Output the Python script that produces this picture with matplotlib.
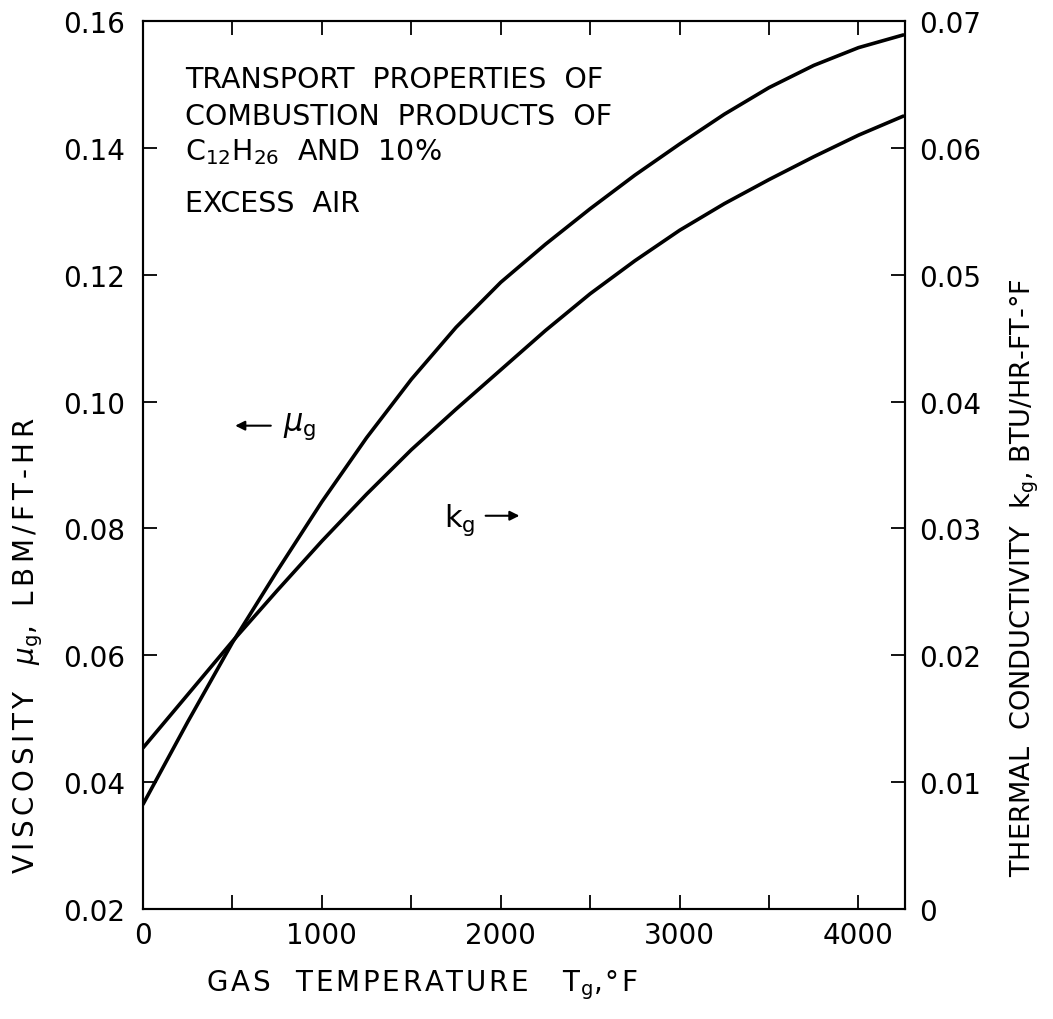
import matplotlib.pyplot as plt
import numpy as np

# gas temperature, deg F
temp = [0, 250, 500, 750, 1000, 1250, 1500, 1750, 2000, 2250, 2500,
        2750, 3000, 3250, 3500, 3750, 4000, 4250]
# viscosity mu_g, lbm/ft-hr (left axis)
mu = [0.0365, 0.0495, 0.0620, 0.0733, 0.0842, 0.0943, 0.1035, 0.1117, 0.1188,
      0.1248, 0.1304, 0.1357, 0.1406, 0.1453, 0.1495, 0.1530, 0.1558, 0.1578]
# thermal conductivity k_g, btu/hr-ft-F (right axis)
k = [0.0127, 0.0169, 0.0211, 0.0251, 0.0290, 0.0327, 0.0362, 0.0394, 0.0425,
     0.0456, 0.0485, 0.0511, 0.0535, 0.0556, 0.0575, 0.0593, 0.0610, 0.0625]

x_major = [0, 1000, 2000, 3000, 4000]
x_minor = [500, 1500, 2500, 3500]
left_ticks = [0.02, 0.04, 0.06, 0.08, 0.10, 0.12, 0.14, 0.16]
left_labels = ['0.02', '0.04', '0.06', '0.08', '0.10', '0.12', '0.14', '0.16']
right_ticks = [0, 0.01, 0.02, 0.03, 0.04, 0.05, 0.06, 0.07]
right_labels = ['0', '0.01', '0.02', '0.03', '0.04', '0.05', '0.06', '0.07']


def spread(s, gap):
    # widen lettering outside of $...$ parts, like the hand lettering
    parts = s.split('$')
    out = []
    for i, p in enumerate(parts):
        out.append(gap.join(p) if i % 2 == 0 else '$' + p + '$')
    return ''.join(out)


W, H = 1053, 1020
fig = plt.figure(figsize=(W / 100, H / 100), dpi=100)
ax = fig.add_axes([143 / W, 1 - 910 / H, (905 - 143) / W, (910 - 22) / H])
ax2 = ax.twinx()

ax.plot(temp, mu, color='black', lw=2.6, solid_capstyle='round')
ax2.plot(temp, k, color='black', lw=2.6, solid_capstyle='round')

ax.set_xlim(0, 4260)
ax.set_ylim(0.02, 0.16)
ax2.set_ylim(0, 0.07)

ax.set_xticks(x_major)
ax.set_xticklabels([str(v) for v in x_major])
ax.set_xticks(x_minor, minor=True)
ax.set_yticks(left_ticks)
ax.set_yticklabels(left_labels)
ax2.set_yticks(right_ticks)
ax2.set_yticklabels(right_labels)

for a in (ax, ax2):
    for s in a.spines.values():
        s.set_linewidth(1.5)

ax.tick_params(axis='x', which='both', direction='in', top=True, length=10,
               width=1.3, labelsize=20, pad=9)
ax.tick_params(axis='y', direction='in', length=10, width=1.3, labelsize=20, pad=13)
ax2.tick_params(axis='y', direction='in', length=10, width=1.3, labelsize=20, pad=10)

# axis titles
fig.text(422 / W, 1 - 985 / H,
         spread(r'GAS  TEMPERATURE   $\mathrm{T_g}$,°F', '\u200a'),
         fontsize=20, ha='center', va='center')
fig.text(28 / W, 1 - 646 / H,
         spread(r'VISCOSITY  $\mu_\mathrm{g}$, LBM/FT-HR', '\u2006'),
         fontsize=20, ha='center', va='center', rotation=90)
fig.text(1025 / W, 1 - 578 / H,
         r'THERMAL  CONDUCTIVITY  $\mathrm{k_g}$, BTU/HR-FT-°F',
         fontsize=19.5, ha='center', va='center', rotation=90)

# note block
note = ['TRANSPORT  PROPERTIES  OF', 'COMBUSTION  PRODUCTS  OF',
        r'C$_{12}$H$_{26}$  AND  10%', 'EXCESS  AIR']
base = [88, 125, 160, 212]
for line, b in zip(note, base):
    fig.text(185 / W, 1 - b / H, line, fontsize=20.5, ha='left', va='baseline')

# curve labels with arrows
ax.annotate('', xy=(500, 0.0962), xytext=(730, 0.0962),
            arrowprops=dict(arrowstyle='-|>', color='black', lw=1.5,
                            mutation_scale=14))
ax.text(780, 0.0962, r'$\mu_\mathrm{g}$', fontsize=22, ha='left', va='center')
ax.text(1680, 0.0815, r'$\mathrm{k_g}$', fontsize=22, ha='left', va='center')
ax.annotate('', xy=(2120, 0.082), xytext=(1900, 0.082),
            arrowprops=dict(arrowstyle='-|>', color='black', lw=1.5,
                            mutation_scale=14))

fig.savefig('out.png', dpi=100)
